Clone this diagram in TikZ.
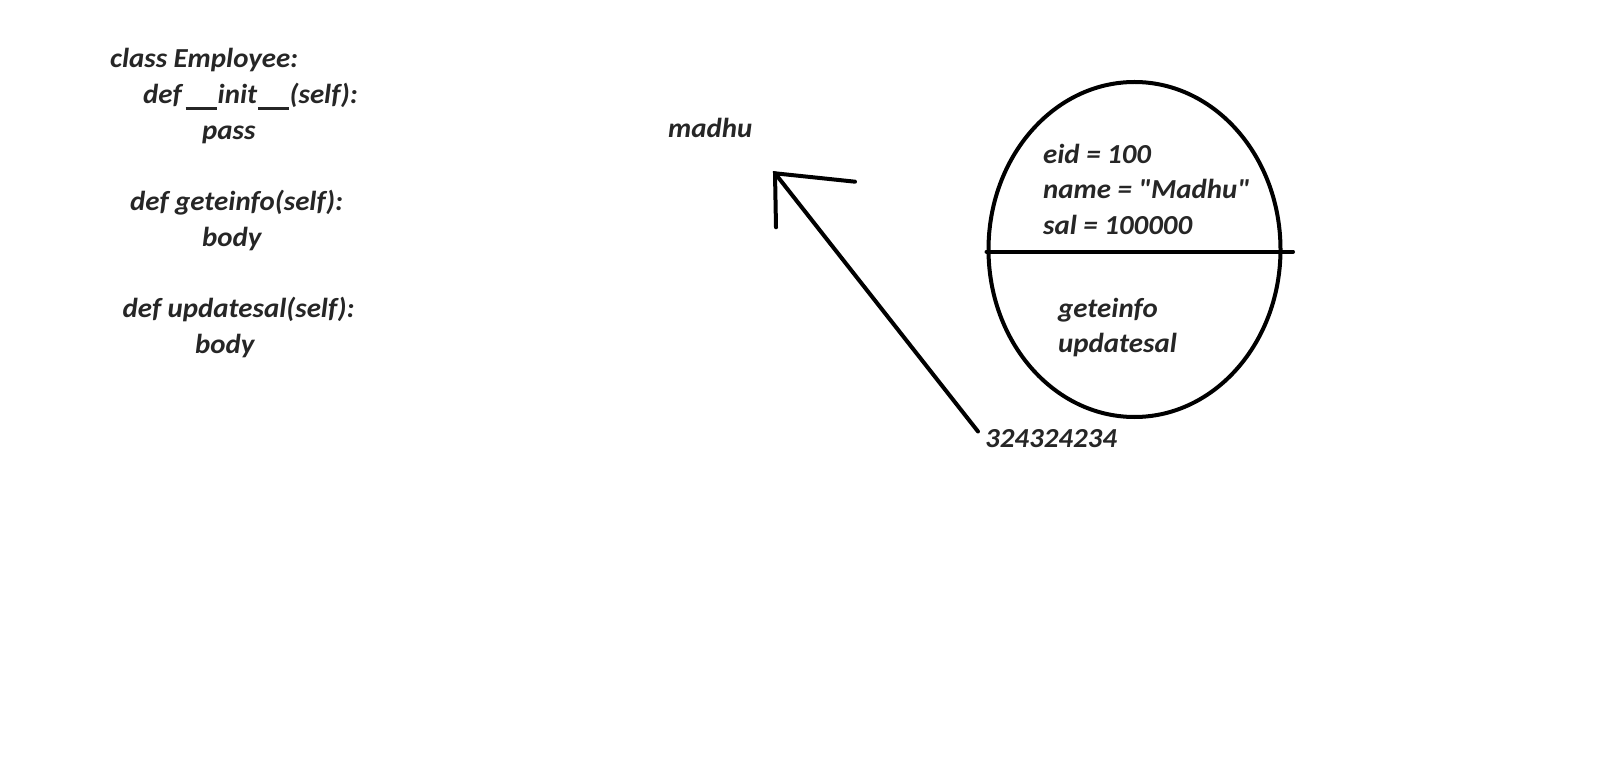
\documentclass[tikz,border=0pt]{standalone}
\usepackage{fontspec}
\setmainfont{Carlito}
\newfontfamily\codefont{Carlito}[BoldItalicFont={* Bold Italic}, FakeStretch=1.05]
\usetikzlibrary{shapes.geometric}
\definecolor{txt}{HTML}{262626}
\newcommand{\uline}[1]{\rule[-6pt]{#1}{2.5pt}}
\tikzset{
  code/.style={font=\codefont\bfseries\itshape\fontsize{27.5}{32}\selectfont, text=txt, anchor=base west, inner sep=0pt},
  stroke/.style={line width=4pt, line cap=round, black},
}
\begin{document}
\begin{tikzpicture}[x=1pt,y=-1pt]
\useasboundingbox (0,0) rectangle (1601,775);
% class code
\node[code] (l1) at (110,68) {class Employee:};
\node[code] (l2) at (143,103.7) {def\kern4pt\uline{31pt}\kern1pt init\kern1pt\uline{31pt}\kern0.5pt(self):};
\node[code] (l3) at (202,139.4) {pass};
\node[code] (l4) at (130,210.8) {def geteinfo(self):};
\node[code] (l5) at (202,246.5) {body};
\node[code] (l6) at (122.5,318) {def updatesal(self):};
\node[code] (l7) at (195,353.6) {body};
% reference variable
\node[code] (madhu) at (668,138) {madhu};
% object
\node[draw, line width=4pt, ellipse, minimum width=292pt, minimum height=335pt, inner sep=0pt] (obj) at (1134.5,249.5) {};
\coordinate (divend) at (1293,251.7);
\draw[stroke] (obj.west |- divend) -- (divend);
\node[code] (eid) at (1043,163.5) {eid = 100};
\node[code] (nm) at (1043,199) {name = "Madhu"};
\node[code] (sal) at (1043,234.5) {sal = 100000};
\node[code] (m1) at (1058,317.5) {geteinfo};
\node[code] (m2) at (1058,353) {updatesal};
% address
\node[code] (addr) at (985,447.7) {324324234};
\coordinate (start) at (978,431.5);
\coordinate (tip) at (775,173.3);
\coordinate (hr) at (855,181.7);
\coordinate (hd) at (776,227.3);
\draw[stroke] (start) -- (tip);
\draw[stroke] (hr) -- (tip) -- (hd);
\end{tikzpicture}
\end{document}
